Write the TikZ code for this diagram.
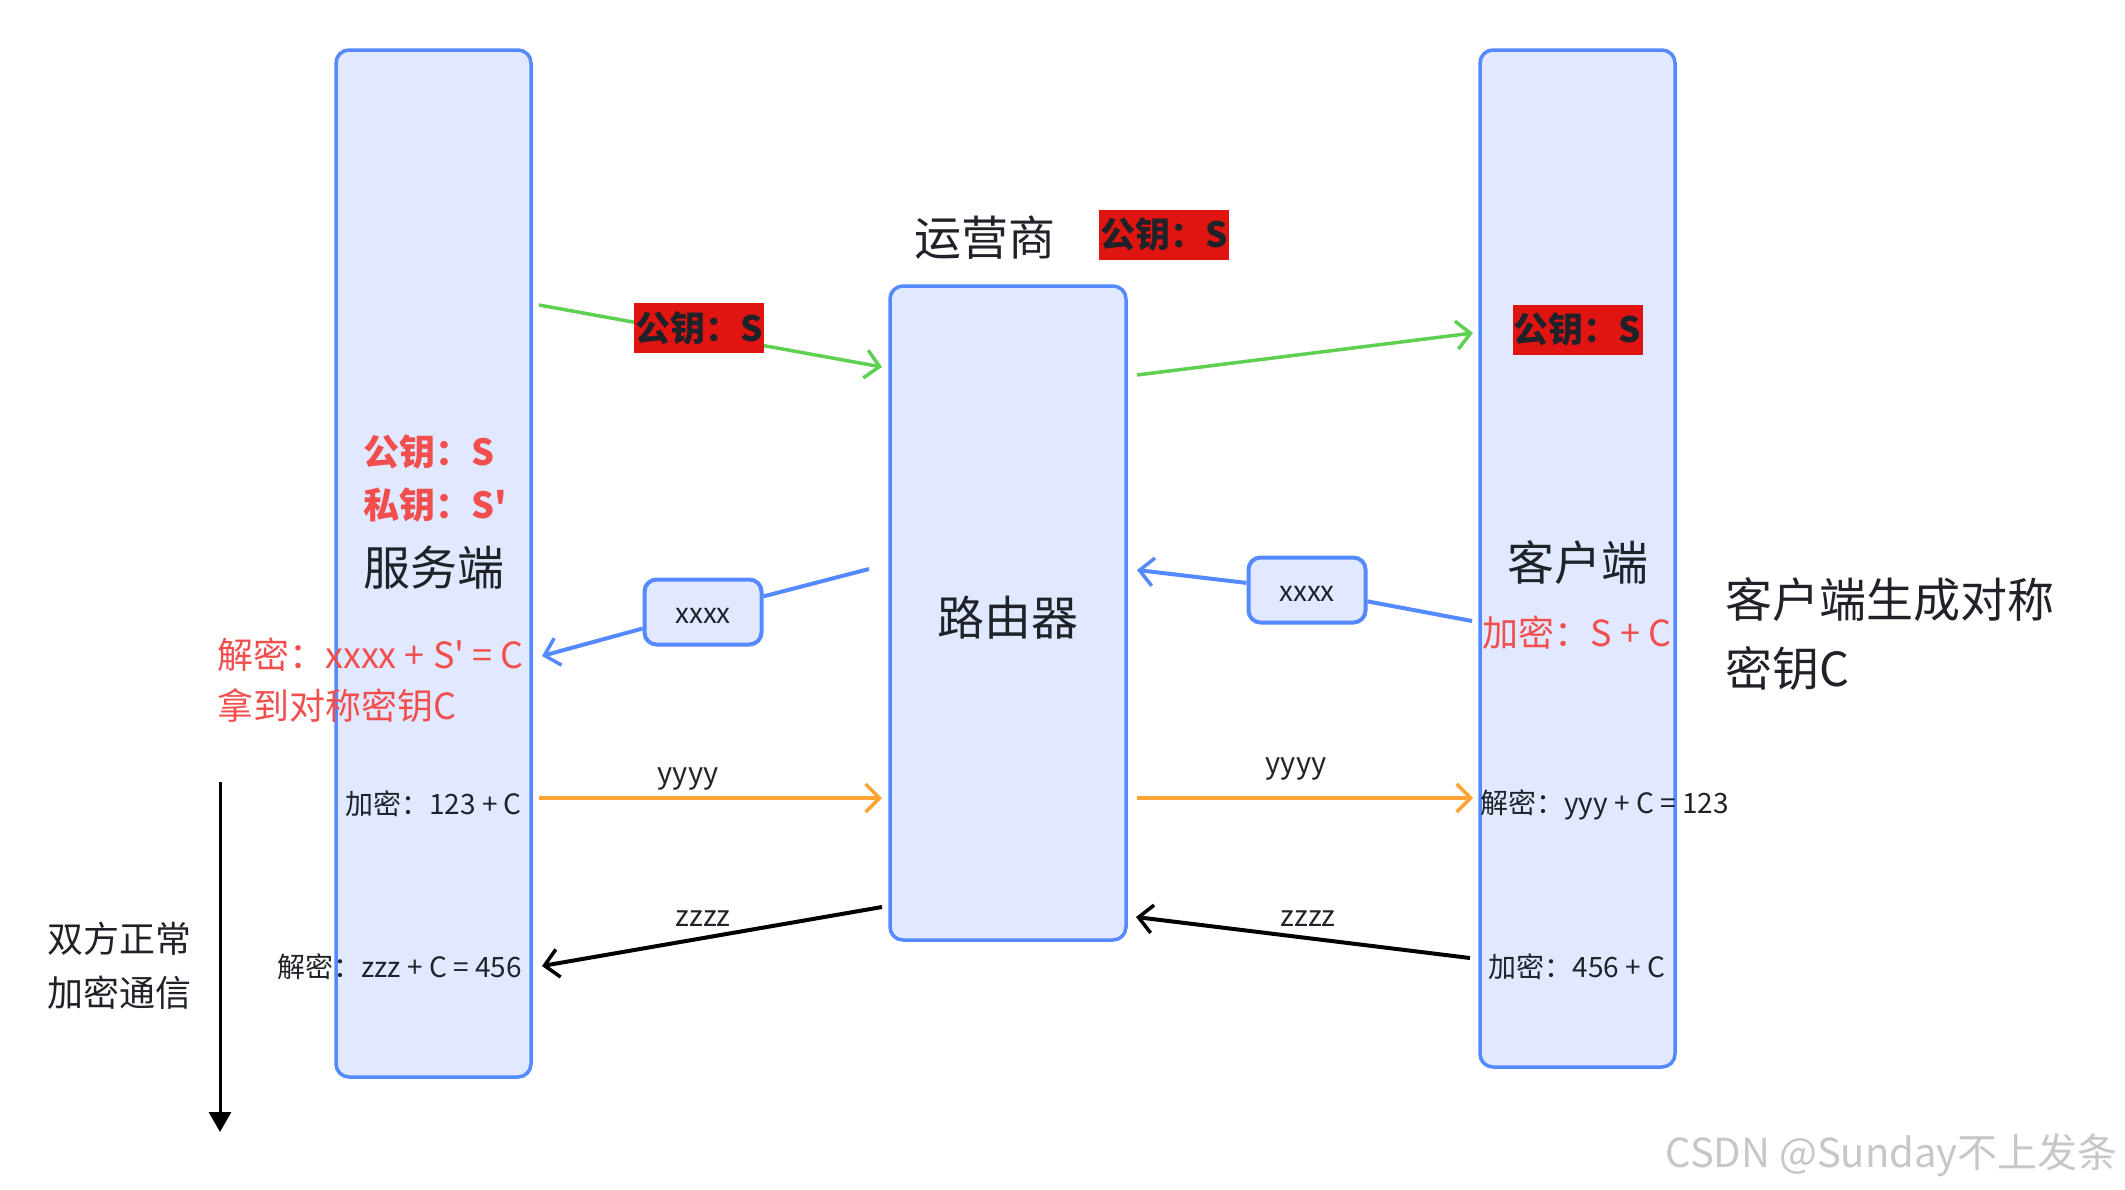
\documentclass[tikz,border=0pt]{standalone}
\usepackage{fontspec}
\newfontfamily\cn{Noto Sans CJK SC}
\usetikzlibrary{arrows.meta}
\definecolor{bblue}{RGB}{84,137,255}
\definecolor{lfill}{RGB}{224,233,255}
\definecolor{dtext}{RGB}{31,35,41}
\definecolor{rtext}{RGB}{242,78,78}
\definecolor{kred}{RGB}{224,20,16}
\definecolor{agreen}{RGB}{95,208,82}
\definecolor{aorange}{RGB}{255,163,51}
\newcommand\fs[1]{\fontsize{#1}{#1}\selectfont}
\begin{document}
\begin{tikzpicture}[x=1pt,y=-1pt,
  every node/.style={font=\cn, text=dtext, inner sep=0pt},
  lane/.style={draw=bblue, fill=lfill, line width=3.5pt, rounded corners=13pt},
  msgbox/.style={draw=bblue, fill=lfill, line width=4pt, rounded corners=12pt,
     minimum width=117pt, minimum height=65pt, font={\cn\fs{28}},
     text height=23pt, text depth=0pt},
  pk/.style={fill=kred, minimum width=130pt, minimum height=50pt,
     font={\cn\fs{35}\bfseries}, text=dtext},
  redt/.style={text=rtext, font={\cn\fs{36}}},
  redb/.style={yshift=-1pt, text=rtext, font={\cn\fs{36}\bfseries}},
  small/.style={yshift=-1.5pt, font={\cn\fs{28}}},
  lbl/.style={font={\cn\fs{29}}},
  big/.style={font={\cn\fs{47}}},
  barb/.style={-{Straight Barb[length=14pt,width=28pt,line width=3.5pt]}},
  garrow/.style={barb, draw=agreen, line width=3.5pt},
  barrow/.style={barb, draw=bblue, line width=4pt},
  oarrow/.style={barb, draw=aorange, line width=3.5pt},
  karrow/.style={barb, draw=black, line width=4pt},
]
\useasboundingbox (0,0) rectangle (2125,1189);
\fill[white] (0,0) rectangle (2125,1189);

% lanes
\node[lane, minimum width=195pt, minimum height=1027pt] (srv) at (433.5,563.5) {};
\node[lane, minimum width=236pt, minimum height=654pt] (rtr) at (1008,613) {};
\node[lane, minimum width=195pt, minimum height=1017pt] (cli) at (1577.5,558.5) {};
\node[big] (srvt) at (433.5,567.5) {服务端};
\node[big] (rtrt) at (1008,618) {路由器};
\node[big] (clit) at (1577.5,562.5) {客户端};

% top labels
\node[big] (op) at (985,238) {运营商};
\node[pk] (pktop) at (1164,234.5) {公钥：S};
\node[pk] (pkcli) at (1577.5,329.5) {公钥：S};

% server texts
\node[redb, anchor=west] (spk) at (363,451) {公钥：S};
\node[redb, anchor=west] (ssk) at (363,504) {私钥：S'};
\node[redt, anchor=west] (sdec) at (217,655) {解密：xxxx + S' = C};
\node[redt, anchor=west] (sget) at (217,706) {拿到对称密钥C};
\node[small, anchor=east] (senc) at (522,802) {加密：123 + C};
\node[small, anchor=east] (sdec2) at (522,965) {解密：zzz + C = 456};

% client texts
\node[redt] (cenc) at (1577,633) {加密：S + C};
\node[small, anchor=west, yshift=-1pt] (cdec) at (1480,802) {解密：yyy + C = 123};
\node[small] (cenc2) at (1577,965) {加密：456 + C};
\node[big, anchor=west] (gen1) at (1725,600) {客户端生成对称};
\node[big, anchor=west] (gen2) at (1725,669) {密钥C};

% coordinates
\coordinate (g1a) at (539,305);
\coordinate (g1b) at (882,367);
\coordinate (g2a) at (1137,375);
\coordinate (g2b) at (1473,333);
\coordinate (b1a) at (869,569);
\coordinate (b1b) at (542,656);
\coordinate (b2a) at (1472,621);
\coordinate (b2b) at (1137,570);
\coordinate (o1a) at (539,798);
\coordinate (o1b) at (882,798);
\coordinate (o2a) at (1137,798);
\coordinate (o2b) at (1473,798);
\coordinate (k1a) at (882,907);
\coordinate (k1b) at (542,966);
\coordinate (k2a) at (1470,958);
\coordinate (k2b) at (1136,917);
\coordinate (t1) at (220,782);
\coordinate (t2) at (220,1132);

% green arrows
\draw[garrow] (g1a) -- (g1b);
\node[pk] (pkmid) at (699,328) {公钥：S};
\draw[garrow] (g2a) -- (g2b);

% blue xxxx
\node[msgbox] (xl) at (703,612) {xxxx};
\node[msgbox] (xr) at (1307,590) {xxxx};
\draw[bblue, line width=4pt] (b1a) -- (xl);
\draw[barrow] (xl) -- (b1b);
\draw[bblue, line width=4pt] (b2a) -- (xr);
\draw[barrow] (xr) -- (b2b);

% orange
\draw[oarrow] (o1a) -- (o1b);
\draw[oarrow] (o2a) -- (o2b);
\node[lbl] (y1) at (688,779) {yyyy};
\node[lbl] (y2) at (1296,769) {yyyy};

% black
\draw[karrow] (k1a) -- (k1b);
\draw[karrow] (k2a) -- (k2b);
\node[lbl] (z1) at (703,919) {zzzz};
\node[lbl] (z2) at (1308,919) {zzzz};

% timeline
\draw[line width=3pt, -{Triangle[length=20pt,width=22pt]}] (t1) -- (t2);
\node[font={\cn\fs{36}}] (dual1) at (119,939) {双方正常};
\node[font={\cn\fs{36}}] (dual2) at (119,993) {加密通信};

% watermark
\node[anchor=east, font={\cn\fs{40}}, text=black!22] (wm) at (2118,1155) {CSDN @Sunday不上发条};
\end{tikzpicture}
\end{document}
